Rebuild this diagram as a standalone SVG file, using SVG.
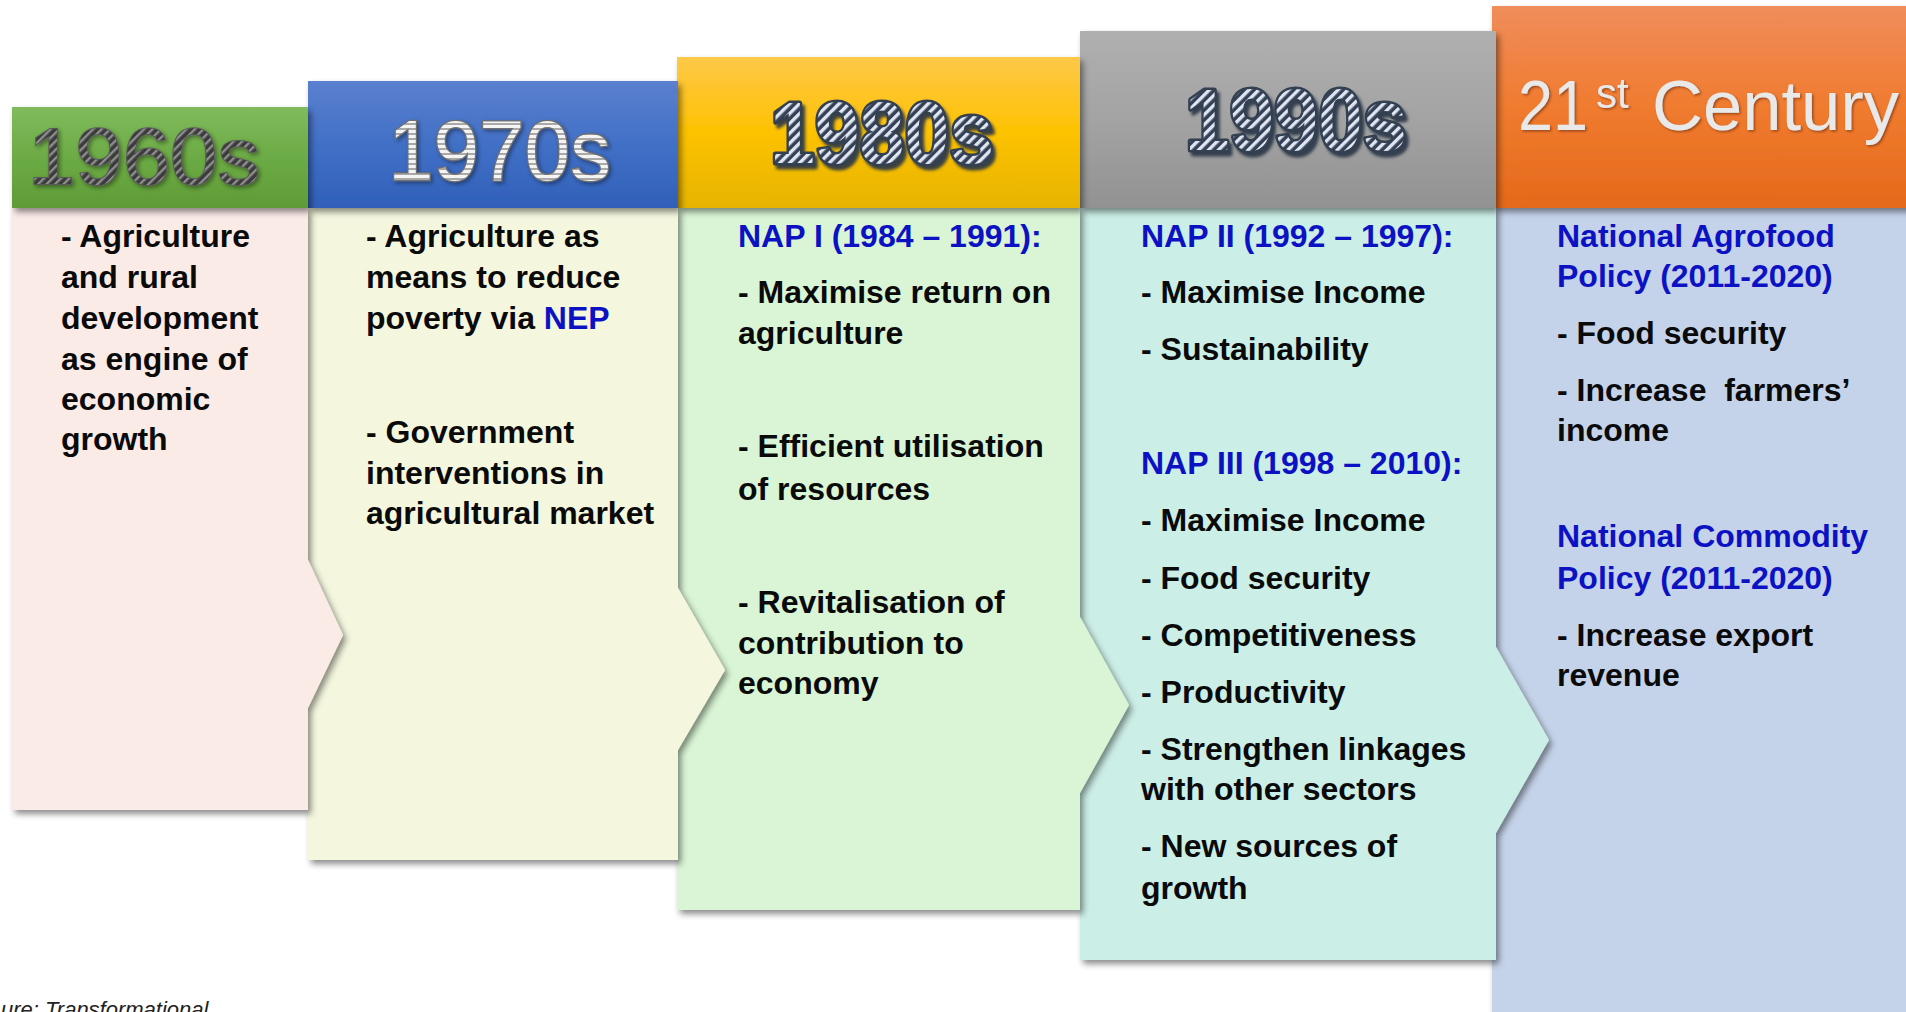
<svg xmlns="http://www.w3.org/2000/svg" width="1906" height="1012" viewBox="0 0 1906 1012">
<style>
  .t { font-family: "Liberation Sans", Arial, sans-serif; font-weight: bold; font-size: 32px; fill: #0a0a0a; }
  .b { fill: #0c12c4; }
  .yr { font-family: "Liberation Sans", Arial, sans-serif; }
  .shape { filter: url(#sh); }
</style>
<defs>
  <filter id="sh" x="-5%" y="-5%" width="115%" height="115%">
    <feDropShadow dx="3" dy="4" stdDeviation="3" flood-color="#000" flood-opacity="0.45"/>
  </filter>
  <filter id="tsh" x="-10%" y="-10%" width="130%" height="130%">
    <feDropShadow dx="3" dy="4" stdDeviation="1.5" flood-color="#2a3444" flood-opacity="0.9"/>
  </filter>
  <filter id="tsoft" x="-10%" y="-10%" width="130%" height="130%">
    <feDropShadow dx="2" dy="2" stdDeviation="2" flood-color="#000" flood-opacity="0.4"/>
  </filter>
  <filter id="temb" x="-10%" y="-10%" width="130%" height="130%">
    <feDropShadow dx="1.5" dy="1.5" stdDeviation="1" flood-color="#7a3510" flood-opacity="0.7"/>
  </filter>
  <linearGradient id="g60" x1="0" y1="0" x2="0" y2="1"><stop offset="0" stop-color="#80bb5d"/><stop offset="0.5" stop-color="#6cab45"/><stop offset="1" stop-color="#5f9c36"/></linearGradient>
  <linearGradient id="g70" x1="0" y1="0" x2="0" y2="1"><stop offset="0" stop-color="#5b80cf"/><stop offset="0.5" stop-color="#4170c6"/><stop offset="1" stop-color="#3060b9"/></linearGradient>
  <linearGradient id="g80" x1="0" y1="0" x2="0" y2="1"><stop offset="0" stop-color="#fec84a"/><stop offset="0.5" stop-color="#fdc200"/><stop offset="1" stop-color="#e6b400"/></linearGradient>
  <linearGradient id="g90" x1="0" y1="0" x2="0" y2="1"><stop offset="0" stop-color="#b0b0b0"/><stop offset="0.5" stop-color="#a3a3a3"/><stop offset="1" stop-color="#929292"/></linearGradient>
  <linearGradient id="g21" x1="0" y1="0" x2="0" y2="1"><stop offset="0" stop-color="#f08d5b"/><stop offset="0.5" stop-color="#f07b2f"/><stop offset="1" stop-color="#e5691a"/></linearGradient>
  <pattern id="p60" width="6" height="6" patternUnits="userSpaceOnUse" patternTransform="rotate(45)">
    <rect width="6" height="6" fill="#3b3b3b"/><rect width="2.4" height="6" fill="#8e8e8e"/>
  </pattern>
  <pattern id="p70" width="4" height="5" patternUnits="userSpaceOnUse">
    <rect width="4" height="5" fill="#f4f4f4"/><rect y="3" width="4" height="2" fill="#a9a9a9"/>
  </pattern>
  <pattern id="p80" width="7" height="7" patternUnits="userSpaceOnUse" patternTransform="rotate(45)">
    <rect width="7" height="7" fill="#344056"/><rect width="3.4" height="7" fill="#dfe6f2"/>
  </pattern>
</defs>
<rect width="1906" height="1012" fill="#ffffff"/>

<g id="col-21st">
  <rect class="shape" x="1492" y="208" width="430" height="830" fill="#c5d3ea"/>
  <rect class="shape" x="1492" y="6" width="430" height="202" fill="url(#g21)"/>
  <text class="yr" y="130" fill="#e9e9e9" filter="url(#temb)"><tspan x="1518" font-size="70" textLength="70" lengthAdjust="spacingAndGlyphs">21</tspan><tspan x="1596" y="108" font-size="42">st</tspan><tspan x="1652" y="130" font-size="70" textLength="247" lengthAdjust="spacingAndGlyphs">Century</tspan></text>
  <text class="t b" x="1557" y="247">National Agrofood</text>
  <text class="t b" x="1557" y="287">Policy (2011-2020)</text>
  <text class="t" x="1557" y="344">- Food security</text>
  <text class="t" x="1557" y="401" xml:space="preserve">- Increase  farmers’</text>
  <text class="t" x="1557" y="441">income</text>
  <text class="t b" x="1557" y="547">National Commodity</text>
  <text class="t b" x="1557" y="589">Policy (2011-2020)</text>
  <text class="t" x="1557" y="646">- Increase export</text>
  <text class="t" x="1557" y="686">revenue</text>
</g>

<g id="col-1990s">
  <polygon class="shape" points="1080,208 1496,208 1496,647 1549,740 1496,833 1496,960 1080,960" fill="#cbeee6"/>
  <rect class="shape" x="1080" y="31" width="416" height="177" fill="url(#g90)"/>
  <text class="yr" x="1185" y="150" font-size="88" font-weight="bold" textLength="222" lengthAdjust="spacingAndGlyphs" fill="url(#p80)" stroke="#333f50" stroke-width="5" paint-order="stroke" stroke-linejoin="round" filter="url(#tsh)">1990s</text>
  <text class="t b" x="1141" y="247">NAP II (1992 – 1997):</text>
  <text class="t" x="1141" y="303">- Maximise Income</text>
  <text class="t" x="1141" y="360">- Sustainability</text>
  <text class="t b" x="1141" y="474">NAP III (1998 – 2010):</text>
  <text class="t" x="1141" y="531">- Maximise Income</text>
  <text class="t" x="1141" y="589">- Food security</text>
  <text class="t" x="1141" y="646">- Competitiveness</text>
  <text class="t" x="1141" y="703">- Productivity</text>
  <text class="t" x="1141" y="760">- Strengthen linkages</text>
  <text class="t" x="1141" y="800">with other sectors</text>
  <text class="t" x="1141" y="857">- New sources of</text>
  <text class="t" x="1141" y="899">growth</text>
</g>

<g id="col-1980s">
  <polygon class="shape" points="677,208 1080,208 1080,617 1129,705 1080,793 1080,910 677,910" fill="#d9f5d5"/>
  <rect class="shape" x="677" y="57" width="403" height="151" fill="url(#g80)"/>
  <text class="yr" x="770" y="163" font-size="88" font-weight="bold" textLength="224" lengthAdjust="spacingAndGlyphs" fill="url(#p80)" stroke="#333f50" stroke-width="5" paint-order="stroke" stroke-linejoin="round" filter="url(#tsh)">1980s</text>
  <text class="t b" x="738" y="247">NAP I (1984 – 1991):</text>
  <text class="t" x="738" y="303">- Maximise return on</text>
  <text class="t" x="738" y="344">agriculture</text>
  <text class="t" x="738" y="457">- Efficient utilisation</text>
  <text class="t" x="738" y="500">of resources</text>
  <text class="t" x="738" y="613">- Revitalisation of</text>
  <text class="t" x="738" y="654">contribution to</text>
  <text class="t" x="738" y="694">economy</text>
</g>

<g id="col-1970s">
  <polygon class="shape" points="308,208 678,208 678,588 725,670 678,750 678,860 308,860" fill="#f4f7de"/>
  <rect class="shape" x="308" y="81" width="370" height="127" fill="url(#g70)"/>
  <text class="yr" x="388" y="180" font-size="86" textLength="223" lengthAdjust="spacingAndGlyphs" fill="url(#p70)" stroke="#6f6f6f" stroke-width="2.5" paint-order="stroke" filter="url(#tsoft)">1970s</text>
  <text class="t" x="366" y="247">- Agriculture as</text>
  <text class="t" x="366" y="288">means to reduce</text>
  <text class="t" x="366" y="329">poverty via <tspan class="b">NEP</tspan></text>
  <text class="t" x="366" y="443">- Government</text>
  <text class="t" x="366" y="484">interventions in</text>
  <text class="t" x="366" y="524">agricultural market</text>
</g>

<g id="col-1960s">
  <polygon class="shape" points="12,208 308,208 308,560 343,635 308,708 308,810 12,810" fill="#fbebe7"/>
  <rect class="shape" x="12" y="107" width="296" height="101" fill="url(#g60)"/>
  <text class="yr" x="28" y="184" font-size="80" textLength="232" lengthAdjust="spacingAndGlyphs" fill="url(#p60)" stroke="#5a5a5a" stroke-width="2" paint-order="stroke" filter="url(#tsoft)">1960s</text>
  <text class="t" x="61" y="247">- Agriculture</text>
  <text class="t" x="61" y="288">and rural</text>
  <text class="t" x="61" y="329">development</text>
  <text class="t" x="61" y="370">as engine of</text>
  <text class="t" x="61" y="410">economic</text>
  <text class="t" x="61" y="450">growth</text>
</g>

<text x="1" y="1017" font-family="Liberation Sans, Arial, sans-serif" font-style="italic" font-size="22" fill="#222">ure: Transformational</text>
</svg>
